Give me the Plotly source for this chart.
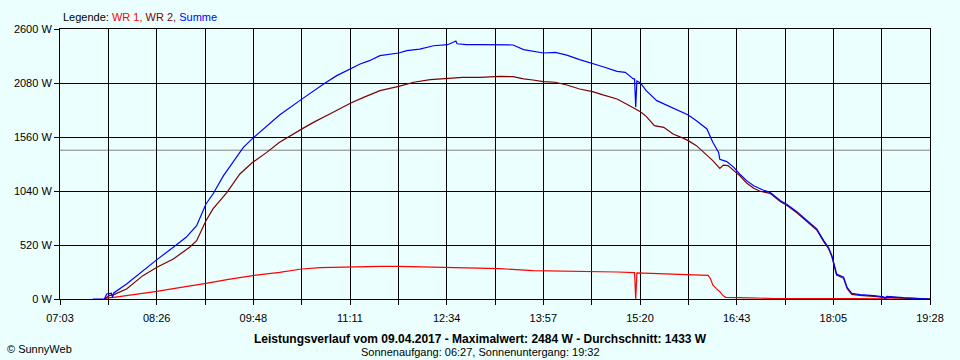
import plotly.graph_objects as go

# ---------------- data ----------------
X_START = "07:03"
X_END = "19:28"
X_LABELS = ["07:03", "08:26", "09:48", "11:11", "12:34", "13:57", "15:20", "16:43", "18:05", "19:28"]
Y_TICKS = [0, 520, 1040, 1560, 2080, 2600]
Y_MAX = 2600
AVERAGE = 1433

wr1_time = ["07:41", "07:44", "07:49", "08:00", "08:14", "08:26", "08:40", "08:57", "09:08", "09:26",
            "09:48", "10:11", "10:30", "10:46", "11:12", "11:37", "11:53", "12:11", "12:35", "12:48",
            "13:03", "13:20", "13:48", "14:17", "14:39", "15:00", "15:15", "15:16", "15:17", "15:22",
            "15:42", "16:01", "16:18", "16:20", "16:22", "16:25", "16:28", "16:31", "16:33", "16:54",
            "17:14", "18:20", "19:20", "19:28"]
wr1_watt = [0, 10, 16, 32, 58, 74, 100, 135, 151, 186,
            225, 257, 289, 302, 311, 315, 315, 311, 308, 302,
            295, 292, 273, 270, 263, 260, 254, 0, 252, 250,
            241, 231, 228, 195, 135, 100, 70, 30, 16, 10,
            5, 3, 2, 0]

wr2_time = ["07:41", "07:45", "07:49", "08:00", "08:14", "08:26", "08:40", "08:54", "09:00", "09:04",
            "09:08", "09:14", "09:26", "09:37", "09:48", "10:00", "10:11", "10:31", "10:40", "10:54",
            "11:12", "11:23", "11:37", "11:53", "12:06", "12:20", "12:35", "12:48", "13:03", "13:20",
            "13:31", "13:40", "13:48", "13:57", "14:07", "14:17", "14:28", "14:39", "14:48", "15:00",
            "15:08", "15:15", "15:20", "15:25", "15:32", "15:40", "15:48", "15:57", "16:01", "16:08",
            "16:17", "16:22", "16:28", "16:31", "16:35", "16:40", "16:45", "16:51", "16:57", "17:02",
            "17:11", "17:20", "17:25", "17:34", "17:42", "17:51", "17:57", "18:01", "18:04", "18:06",
            "18:08", "18:14", "18:17", "18:21", "18:28", "18:40", "18:48", "18:54", "19:05", "19:19",
            "19:28"]
wr2_watt = [0, 32, 42, 96, 225, 305, 385, 498, 562, 658,
            754, 867, 1027, 1204, 1316, 1412, 1509, 1643, 1701, 1782,
            1887, 1942, 2006, 2048, 2087, 2112, 2128, 2135, 2135, 2144,
            2141, 2119, 2109, 2093, 2087, 2061, 2022, 1997, 1965, 1926,
            1878, 1839, 1804, 1759, 1669, 1653, 1589, 1547, 1525, 1477,
            1387, 1332, 1258, 1290, 1284, 1236, 1188, 1117, 1066, 1040,
            1017, 937, 905, 831, 754, 664, 552, 488, 407, 311,
            231, 199, 102, 45, 35, 26, 16, 18, 8, 3,
            0]

sum_time = ["07:31", "07:41", "07:43", "07:45", "07:47", "07:48", "07:49", "08:00", "08:14", "08:26",
            "08:40", "08:51", "09:00", "09:06", "09:08", "09:14", "09:23", "09:31", "09:40", "09:48",
            "10:00", "10:11", "10:31", "10:40", "10:50", "11:00", "11:12", "11:20", "11:28", "11:37",
            "11:53", "12:00", "12:11", "12:23", "12:35", "12:42", "12:43", "12:51", "13:03", "13:16",
            "13:20", "13:31", "13:40", "13:48", "13:57", "14:07", "14:17", "14:28", "14:39", "14:48",
            "15:00", "15:07", "15:14", "15:15", "15:16", "15:17", "15:20", "15:25", "15:34", "15:42",
            "15:51", "16:01", "16:08", "16:17", "16:22", "16:27", "16:28", "16:34", "16:40", "16:45",
            "16:51", "16:57", "17:05", "17:11", "17:20", "17:25", "17:34", "17:42", "17:51", "17:57",
            "18:01", "18:04", "18:06", "18:08", "18:14", "18:17", "18:21", "18:28", "18:40", "18:48",
            "18:50", "18:51", "19:05", "19:19", "19:28"]
sum_watt = [0, 0, 48, 55, 55, 15, 58, 144, 273, 379,
            498, 594, 706, 851, 915, 1011, 1188, 1316, 1460, 1547,
            1669, 1772, 1932, 2006, 2080, 2151, 2215, 2263, 2295, 2343,
            2369, 2391, 2407, 2439, 2449, 2484, 2458, 2449, 2449, 2446,
            2449, 2446, 2401, 2385, 2369, 2375, 2349, 2305, 2269, 2237,
            2192, 2183, 2119, 2119, 1846, 2100, 2080, 2006, 1910, 1868,
            1820, 1772, 1717, 1637, 1509, 1412, 1345, 1323, 1268, 1204,
            1140, 1091, 1050, 1027, 947, 915, 841, 764, 674, 562,
            498, 417, 321, 241, 209, 112, 55, 42, 32, 22,
            0, 26, 13, 6, 0]


def to_min(s):
    h, m = s.split(":")
    return int(h) * 60 + int(m)


x0, x1 = to_min(X_START), to_min(X_END)
n_grid = 2 * (len(X_LABELS) - 1)
grid_vals = [x0 + i * (x1 - x0) / n_grid for i in range(n_grid + 1)]
grid_text = []
for i in range(n_grid + 1):
    grid_text.append(X_LABELS[i // 2] if i % 2 == 0 else "")

BG = "#EBFFFF"
FONT = "Liberation Sans, Arial, sans-serif"

fig = go.Figure()
fig.add_trace(go.Scatter(x=[to_min(t) for t in wr1_time], y=wr1_watt, mode="lines",
                         name="WR 1", line=dict(color="#FF0000", width=1.2)))
fig.add_trace(go.Scatter(x=[to_min(t) for t in wr2_time], y=wr2_watt, mode="lines",
                         name="WR 2", line=dict(color="#800000", width=1.2)))
fig.add_trace(go.Scatter(x=[to_min(t) for t in sum_time], y=sum_watt, mode="lines",
                         name="Summe", line=dict(color="#0000FF", width=1.2)))

fig.add_shape(type="line", xref="paper", x0=0, x1=1, yref="y", y0=AVERAGE, y1=AVERAGE,
              line=dict(color="#808080", width=1), layer="below")

fig.update_layout(
    width=960, height=360,
    margin=dict(l=60, r=30, t=29, b=61),
    paper_bgcolor=BG, plot_bgcolor=BG,
    showlegend=False,
    font=dict(family=FONT, size=11, color="black"),
    xaxis=dict(range=[x0, x1], tickmode="array", tickvals=grid_vals, ticktext=grid_text,
               showgrid=True, gridcolor="black", gridwidth=1, zeroline=False,
               ticks="outside", ticklen=5, tickcolor="black", tickwidth=1,
               showline=True, linecolor="black", linewidth=1, mirror=True,
               ticklabelstandoff=4, tickfont=dict(size=11, color="black")),
    yaxis=dict(range=[0, Y_MAX], tickmode="array", tickvals=Y_TICKS,
               ticktext=[f"{v} W" for v in Y_TICKS],
               showgrid=True, gridcolor="black", gridwidth=1, zeroline=False,
               ticks="outside", ticklen=5, tickcolor="black", tickwidth=1,
               showline=True, linecolor="black", linewidth=1, mirror=True,
               tickfont=dict(size=11, color="black")),
)

fig.add_annotation(xref="paper", yref="paper", x=(61 - 60) / 870, y=(299 - 17) / 270,
                   xanchor="left", yanchor="middle", showarrow=False,
                   text="Legende: <span style='color:#FF0000'>WR 1,</span> "
                        "<span style='color:#800000'>WR 2,</span> "
                        "<span style='color:#0000FF'>Summe</span>",
                   font=dict(size=11, color="black"))
fig.add_annotation(xref="paper", yref="paper", x=(480 - 60) / 870, y=(299 - 339) / 270,
                   xanchor="center", yanchor="middle", showarrow=False,
                   text="<b>Leistungsverlauf vom 09.04.2017 - Maximalwert: 2484 W - Durchschnitt: 1433 W</b>",
                   font=dict(size=12, color="black"))
fig.add_annotation(xref="paper", yref="paper", x=(480 - 60) / 870, y=(299 - 352) / 270,
                   xanchor="center", yanchor="middle", showarrow=False,
                   text="Sonnenaufgang: 06:27, Sonnenuntergang: 19:32",
                   font=dict(size=11, color="black"))
fig.add_annotation(xref="paper", yref="paper", x=(5 - 60) / 870, y=(299 - 349) / 270,
                   xanchor="left", yanchor="middle", showarrow=False,
                   text="© SunnyWeb", font=dict(size=11, color="black"))

fig.write_html("out.html", config={"displayModeBar": False, "staticPlot": True})

# remove the browser's default page margin so the figure sits at the window's top-left corner
with open("out.html", "r", encoding="utf-8") as f:
    html = f.read()
html = html.replace("<head>", "<head><style>html,body{margin:0;padding:0;overflow:hidden;background:%s;}</style>" % BG, 1)
with open("out.html", "w", encoding="utf-8") as f:
    f.write(html)
